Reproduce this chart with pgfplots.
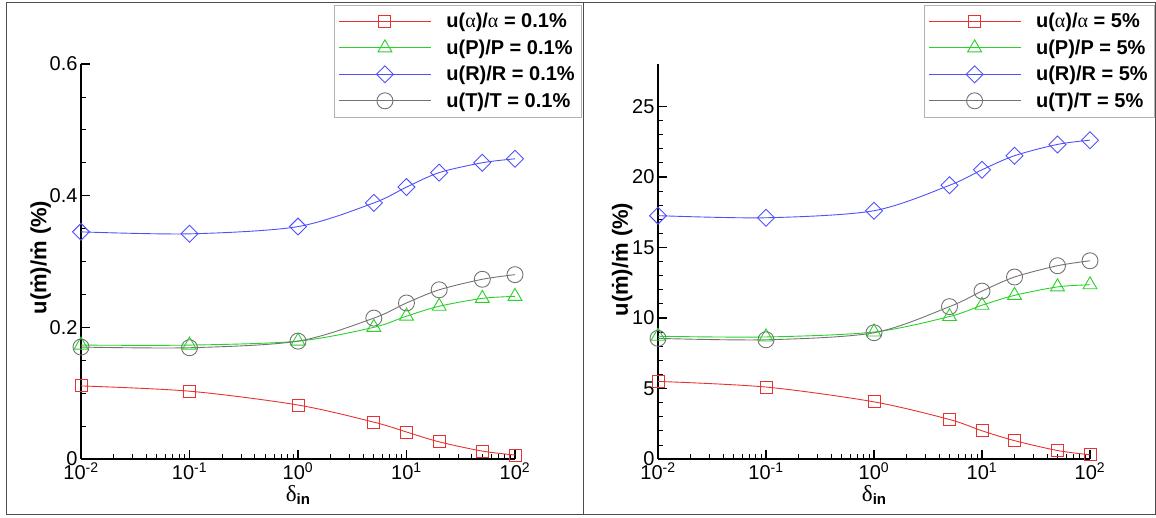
\documentclass[border=0pt]{standalone}
\usepackage{pgfplots}
\usepackage{pgfplotstable}
\pgfplotsset{compat=1.18}
\usepackage{fontspec}
\setmainfont{Liberation Sans}
\newfontfamily\grk{Liberation Serif}

\definecolor{myred}{RGB}{232,50,50}
\definecolor{mygreen}{RGB}{40,210,40}
\definecolor{myblue}{RGB}{80,80,250}
\definecolor{mygray}{RGB}{115,115,115}

\pgfplotstableread{
x     a      p      r      t
0.01  0.111  0.173  0.345  0.170
0.1   0.103  0.173  0.342  0.169
1     0.082  0.179  0.353  0.179
5     0.056  0.200  0.389  0.214
10    0.041  0.217  0.413  0.237
20    0.026  0.232  0.435  0.257
50    0.012  0.244  0.450  0.273
100   0.006  0.247  0.456  0.280
}\leftdata

\pgfplotstableread{
x     a      p      r      t
0.01  5.50   8.70   17.25  8.55
0.1   5.10   8.65   17.10  8.45
1     4.05   9.00   17.60  8.95
5     2.80   10.10  19.40  10.80
10    2.00   10.90  20.50  11.90
20    1.30   11.60  21.50  12.90
50    0.60   12.20  22.30  13.70
100   0.30   12.35  22.60  14.05
}\rightdata

\pgfplotsset{
  every axis/.append style={
    scale only axis, height=395pt,
    axis lines*=left, axis line style={-, line width=1.6pt},
    tick align=inside,
    major tick length=9pt, minor tick length=5pt,
    major tick style={line width=1.4pt, black},
    minor tick style={line width=0.7pt, black},
    tick label style={font=\fontsize{20}{22}\selectfont},
    legend cell align=left,
    legend style={draw=none, fill=white,
      font=\bfseries\fontsize{20}{22}\selectfont, anchor=north east,
      inner xsep=4pt, inner ysep=6pt, nodes={inner sep=2pt}, column sep=13pt, row sep=6.5pt},
    legend image code/.code={\draw[mark repeat=2,mark phase=2] plot coordinates {(0pt,0pt)(46pt,0pt)(92pt,0pt)};},
    clip=false,
  },
}

\begin{document}
\begin{tikzpicture}
\path (0pt,0pt) rectangle (1156pt,518pt);
\draw[black!70, line width=1pt] (6pt,3pt) rectangle (583pt,515pt);
\draw[black!70, line width=1pt] (583pt,3pt) rectangle (1155pt,515pt);

\begin{axis}[width=434pt, at={(81pt,59pt)}, anchor=south west,
  xmode=log, xmin=0.01, xmax=100,
  xtick={0.01,0.1,1,10,100},
  xticklabels={10\textsuperscript{-2},10\textsuperscript{-1},10\textsuperscript{0},10\textsuperscript{1},10\textsuperscript{2}},
  ymin=0, ymax=0.6, ytick={0,0.2,0.4,0.6}, yticklabels={0,0.2,0.4,0.6},
  minor y tick num=3,
  xlabel={{\fontsize{23}{23}\selectfont\grk δ}\raisebox{-0.45ex}{\fontsize{15}{15}\selectfont\bfseries in}},
  xlabel style={at={(axis description cs:0.5,-0.091)}, anchor=center},
  ylabel={u(ṁ)/ṁ (\%)},
  ylabel style={font=\bfseries\fontsize{22}{24}\selectfont, at={(axis description cs:-0.093,0.51)}, anchor=center},
  legend style={at={(axis description cs:1.152,1.149)}, name=legL}]
\addplot[color=myred, draw=myred, line width=0.9pt, smooth, tension=0.5, mark=square, mark size=6pt, mark options={solid, fill=none, line width=0.9pt, draw=myred}] table[x=x,y=a] {\leftdata};
\addlegendentry{u({\grk\mdseries α})/{\grk\mdseries α} = 0.1\%}
\addplot[color=mygreen, draw=mygreen, line width=0.9pt, smooth, tension=0.5, mark=triangle, mark size=8pt, mark options={solid, fill=none, line width=0.9pt, draw=mygreen}] table[x=x,y=p] {\leftdata};
\addlegendentry{u(P)/P = 0.1\%}
\addplot[color=myblue, draw=myblue, line width=0.9pt, smooth, tension=0.5, mark=square, mark size=6pt, mark options={solid, fill=none, line width=0.9pt, rotate=45, draw=myblue}] table[x=x,y=r] {\leftdata};
\addlegendentry{u(R)/R = 0.1\%}
\addplot[color=mygray, draw=mygray, line width=0.9pt, smooth, tension=0.5, mark=o, mark size=8pt, mark options={solid, fill=none, line width=0.9pt, draw=mygray}] table[x=x,y=t] {\leftdata};
\addlegendentry{u(T)/T = 0.1\%}
\end{axis}

\begin{axis}[width=432pt, at={(658pt,59pt)}, anchor=south west,
  xmode=log, xmin=0.01, xmax=100,
  xtick={0.01,0.1,1,10,100},
  xticklabels={10\textsuperscript{-2},10\textsuperscript{-1},10\textsuperscript{0},10\textsuperscript{1},10\textsuperscript{2}},
  ymin=0, ymax=28, ytick={0,5,10,15,20,25}, yticklabels={0,5,10,15,20,25},
  minor y tick num=4,
  xlabel={{\fontsize{23}{23}\selectfont\grk δ}\raisebox{-0.45ex}{\fontsize{15}{15}\selectfont\bfseries in}},
  xlabel style={at={(axis description cs:0.5,-0.091)}, anchor=center},
  ylabel={u(ṁ)/ṁ (\%)},
  ylabel style={font=\bfseries\fontsize{22}{24}\selectfont, at={(axis description cs:-0.083,0.505)}, anchor=center},
  legend style={at={(axis description cs:1.148,1.149)}, name=legR}]
\addplot[color=myred, draw=myred, line width=0.9pt, smooth, tension=0.5, mark=square, mark size=6pt, mark options={solid, fill=none, line width=0.9pt, draw=myred}] table[x=x,y=a] {\rightdata};
\addlegendentry{u({\grk\mdseries α})/{\grk\mdseries α} = 5\%}
\addplot[color=mygreen, draw=mygreen, line width=0.9pt, smooth, tension=0.5, mark=triangle, mark size=8pt, mark options={solid, fill=none, line width=0.9pt, draw=mygreen}] table[x=x,y=p] {\rightdata};
\addlegendentry{u(P)/P = 5\%}
\addplot[color=myblue, draw=myblue, line width=0.9pt, smooth, tension=0.5, mark=square, mark size=6pt, mark options={solid, fill=none, line width=0.9pt, rotate=45, draw=myblue}] table[x=x,y=r] {\rightdata};
\addlegendentry{u(R)/R = 5\%}
\addplot[color=mygray, draw=mygray, line width=0.9pt, smooth, tension=0.5, mark=o, mark size=8pt, mark options={solid, fill=none, line width=0.9pt, draw=mygray}] table[x=x,y=t] {\rightdata};
\addlegendentry{u(T)/T = 5\%}
\end{axis}
\draw[gray!60, line width=0.8pt] (legL.south west) rectangle (legL.north east);
\draw[gray!60, line width=0.8pt] (legR.south west) rectangle (legR.north east);
\end{tikzpicture}
\end{document}
